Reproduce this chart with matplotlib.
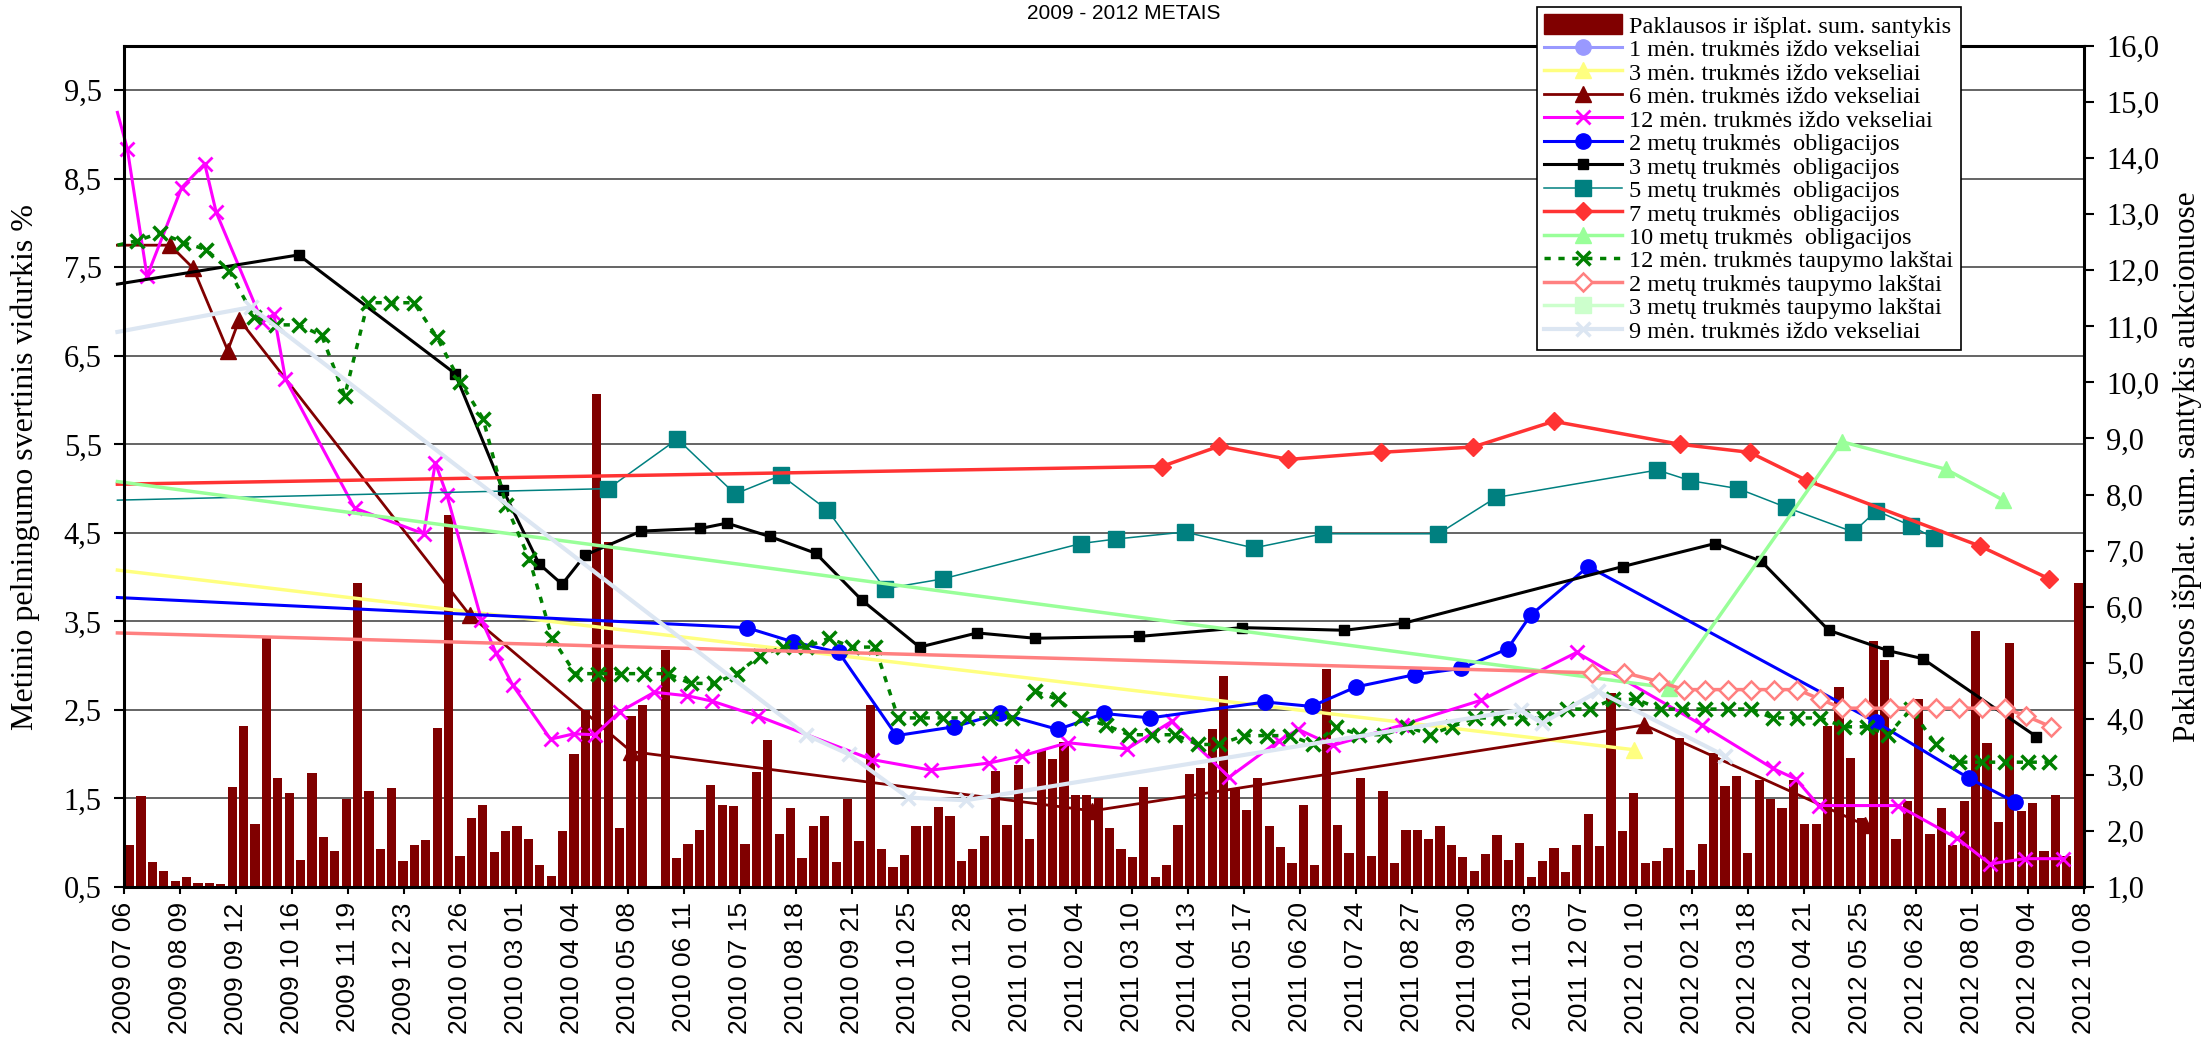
import numpy as np
import pandas as pd
import matplotlib
matplotlib.use("Agg")
import matplotlib.pyplot as plt
from matplotlib.patches import Patch

# x axis runs in days counted from the first tick date
base_date = pd.Timestamp("2009-07-06")

tick_labels = ["2009 07 06", "2009 08 09", "2009 09 12", "2009 10 16", "2009 11 19", "2009 12 23",
               "2010 01 26", "2010 03 01", "2010 04 04", "2010 05 08", "2010 06 11", "2010 07 15",
               "2010 08 18", "2010 09 21", "2010 10 25", "2010 11 28", "2011 01 01", "2011 02 04",
               "2011 03 10", "2011 04 13", "2011 05 17", "2011 06 20", "2011 07 24", "2011 08 27",
               "2011 09 30", "2011 11 03", "2011 12 07", "2012 01 10", "2012 02 13", "2012 03 18",
               "2012 04 21", "2012 05 25", "2012 06 28", "2012 08 01", "2012 09 04", "2012 10 08"]

# Paklausos ir isplatintos sumos santykis (right axis), one bar per auction
demand_ratio = [1.75, 2.62, 1.44, 1.29, 1.10, 1.17, 1.07, 1.07, 1.05, 2.79, 3.88, 2.13, 5.48, 2.94, 2.67,
                1.48, 3.03, 1.89, 1.65, 2.57, 6.42, 2.71, 1.67, 2.76, 1.46, 1.75, 1.84, 3.83, 7.64, 1.56,
                2.23, 2.46, 1.63,
                1.99, 2.08, 1.86, 1.40, 1.20, 2.00, 3.37, 4.15, 9.79, 7.15, 2.05, 4.05, 4.25, 0.00, 5.23,
                1.52, 1.76, 2.01, 2.82, 2.47, 2.44, 1.76, 3.05, 3.62, 1.95, 2.41, 1.52, 2.09, 2.27, 1.45,
                2.57, 1.82, 4.24, 1.68, 1.36, 1.57,
                2.09, 2.09, 2.42, 2.27, 1.47, 1.68, 1.91, 3.07, 2.11, 3.18, 1.85, 3.45, 3.28, 3.58, 2.64,
                2.64, 2.59, 2.06, 1.68, 1.53, 2.79, 1.18, 1.40, 2.10, 3.01, 3.13, 3.81, 4.77, 2.76, 2.37,
                2.95, 2.09, 1.72, 1.42,
                2.47, 1.39, 4.88, 2.11, 1.61, 2.94, 1.55, 2.72, 1.43, 2.02, 2.02, 1.85, 2.09, 1.75, 1.53,
                1.28, 1.58, 1.92, 1.49, 1.79, 1.17, 1.47, 1.69, 1.26, 1.75, 2.31, 1.73, 4.46, 1.99, 2.67,
                1.42, 1.47, 1.69, 3.66,
                1.31, 1.77, 3.39, 2.81, 2.98, 1.60, 2.91, 2.57, 2.41, 2.91, 2.13, 2.13, 3.88, 4.56, 3.30,
                2.23, 5.38, 5.04, 1.86, 2.54, 4.36, 1.94, 2.41, 1.75, 2.54, 5.57, 3.56, 2.16, 5.36, 2.35,
                2.49, 1.65, 2.64, 1.55, 6.42]
first_auction_day = 3.4
last_auction_day = 1186.5

# yields (left axis): day offsets and values
m1_days, m1_vals = [], []

m3_days = [-4, 917]
m3_vals = [4.08, 2.05]

m6_days = [-4, 28, 42, 63, 70, 210, 308, 588, 923, 1057]
m6_vals = [7.75, 7.75, 7.49, 6.56, 6.91, 3.57, 2.03, 1.36, 2.33, 1.20]

m12_days = [-4, 2, 14, 35, 49, 56, 84, 91, 98, 140, 182, 189, 196, 217, 226, 236, 259, 273, 286, 301,
            322, 342, 357, 385, 454, 490, 525, 545, 573, 609, 636, 671, 701, 713, 734, 776, 824, 882,
            958, 1001, 1015, 1029, 1077, 1113, 1133, 1154, 1177]
m12_vals = [9.25, 8.84, 7.40, 8.40, 8.67, 8.12, 6.88, 6.97, 6.24, 4.78, 4.49, 5.29, 4.93, 3.52, 3.14,
            2.78, 2.17, 2.23, 2.22, 2.48, 2.70, 2.66, 2.60, 2.43, 1.94, 1.82, 1.90, 1.98, 2.13, 2.06,
            2.37, 1.74, 2.15, 2.28, 2.10, 2.33, 2.61, 3.15, 2.33, 1.84, 1.72, 1.42, 1.42, 1.05, 0.76,
            0.82, 0.82]

y2_days = [-4, 378, 406, 434, 469, 504, 532, 567, 595, 623, 693, 721, 748, 784, 812, 840, 854, 889,
           1064, 1120, 1148]
y2_vals = [3.77, 3.43, 3.27, 3.15, 2.21, 2.31, 2.46, 2.28, 2.46, 2.41, 2.59, 2.54, 2.76, 2.90, 2.97,
           3.19, 3.57, 4.12, 2.36, 1.73, 1.46]

y3_days = [-4, 106, 201, 230, 252, 266, 280, 314, 350, 366, 392, 420, 448, 483, 518, 553, 616, 679,
           741, 777, 910, 966, 994, 1035, 1071, 1092, 1161]
y3_vals = [7.31, 7.64, 6.30, 4.99, 4.15, 3.92, 4.25, 4.52, 4.55, 4.61, 4.46, 4.27, 3.74, 3.21, 3.37,
           3.31, 3.33, 3.43, 3.40, 3.48, 4.12, 4.38, 4.18, 3.40, 3.17, 3.08, 2.20]

y5_days = [-4, 294, 336, 371, 399, 427, 462, 497, 581, 602, 644, 686, 728, 798, 833, 931, 951, 980,
           1009, 1050, 1064, 1085, 1099]
y5_vals = [4.87, 5.00, 5.56, 4.94, 5.15, 4.76, 3.87, 3.98, 4.38, 4.43, 4.51, 4.33, 4.49, 4.49, 4.90,
           5.21, 5.09, 5.00, 4.79, 4.51, 4.75, 4.58, 4.44]

y7_days = [-4, 630, 665, 707, 763, 819, 868, 945, 987, 1022, 1127, 1169]
y7_vals = [5.05, 5.25, 5.48, 5.33, 5.41, 5.47, 5.76, 5.50, 5.41, 5.09, 4.35, 3.98]

y10_days = [-4, 938, 1043, 1106, 1141]
y10_vals = [5.08, 2.75, 5.53, 5.22, 4.87]

s12_days = [-4, 8, 22, 36, 50, 64, 79, 92, 106, 120, 134, 148, 162, 176, 190, 204, 218, 232, 246, 260,
            274, 288, 302, 316, 330, 344, 358, 372, 386, 400, 414, 428, 442, 456, 470, 483, 497, 512,
            526, 539, 553, 567, 581, 596, 610, 624, 638, 652, 665, 680, 694, 708, 722, 736, 750, 765,
            779, 793, 806, 820, 834, 849, 862, 876, 890, 904, 918, 933, 946, 960, 974, 988, 1001, 1016,
            1030, 1044, 1058, 1071, 1085, 1100, 1114, 1128, 1142, 1156, 1169]
s12_vals = [7.75, 7.80, 7.89, 7.78, 7.70, 7.46, 6.94, 6.85, 6.85, 6.73, 6.05, 7.10, 7.10, 7.10, 6.71,
            6.21, 5.79, 4.81, 4.21, 3.31, 2.91, 2.91, 2.91, 2.91, 2.91, 2.80, 2.80, 2.91, 3.11, 3.21,
            3.21, 3.31, 3.21, 3.21, 2.41, 2.41, 2.41, 2.41, 2.41, 2.41, 2.71, 2.62, 2.41, 2.33, 2.22,
            2.22, 2.22, 2.11, 2.11, 2.21, 2.21, 2.21, 2.11, 2.31, 2.22, 2.22, 2.31, 2.22, 2.31, 2.41,
            2.41, 2.41, 2.41, 2.51, 2.51, 2.62, 2.62, 2.51, 2.51, 2.51, 2.51, 2.51, 2.41, 2.41, 2.41,
            2.31, 2.31, 2.22, 2.51, 2.11, 1.91, 1.91, 1.91, 1.91, 1.91]

s2_days = [-4, 891, 911, 932, 947, 960, 974, 988, 1002, 1016, 1030, 1043, 1057, 1072, 1086, 1100,
           1114, 1128, 1142, 1155, 1170]
s2_vals = [3.37, 2.92, 2.92, 2.82, 2.73, 2.73, 2.73, 2.73, 2.73, 2.73, 2.62, 2.52, 2.52, 2.52, 2.52,
           2.52, 2.52, 2.52, 2.52, 2.43, 2.31]

s3_days, s3_vals = [], []

m9_days = [-4, 77, 414, 440, 476, 511, 848, 861, 895, 972]
m9_vals = [6.77, 7.05, 2.22, 2.00, 1.51, 1.48, 2.50, 2.35, 2.71, 1.98]

left_ticks = [0.5, 1.5, 2.5, 3.5, 4.5, 5.5, 6.5, 7.5, 8.5, 9.5]
right_ticks = list(range(1, 17))

serif = "Liberation Serif"
sans = "Liberation Sans"

fig = plt.figure(figsize=(22.11, 10.40), dpi=100)
rect = [124 / 2211, 153 / 1040, 1960 / 2211, 841 / 1040]

# grid sits in its own axes so it stays behind the bars
axg = fig.add_axes(rect)
axg.set_ylim(0.5, 10)
axg.set_xlim(0, 1190)
axg.set_yticks(left_ticks)
axg.grid(axis="y", color="#4a4a4a", linewidth=1.2)
axg.tick_params(left=False, bottom=False, labelleft=False, labelbottom=False)
for s in axg.spines.values():
    s.set_visible(False)
axg.set_zorder(0)

ax = fig.add_axes(rect)
ax2 = ax.twinx()
ax.set_zorder(2)
ax2.set_zorder(1)
ax.patch.set_visible(False)
ax2.patch.set_visible(False)

bar_days = np.linspace(first_auction_day, last_auction_day, len(demand_ratio))
ax2.bar(bar_days, demand_ratio, width=5.6, color="#800000", linewidth=0)
ax2.set_ylim(1, 16)

series = [
    (m1_days, m1_vals, "1 mėn. trukmės iždo vekseliai",
     dict(color="#9999FF", marker="o", ms=11, lw=2.2)),
    (m3_days, m3_vals, "3 mėn. trukmės iždo vekseliai",
     dict(color="#FFFF80", marker="^", ms=12, lw=2.5)),
    (m6_days, m6_vals, "6 mėn. trukmės iždo vekseliai",
     dict(color="#800000", marker="^", ms=12, lw=2.0)),
    (m12_days, m12_vals, "12 mėn. trukmės iždo vekseliai",
     dict(color="#FF00FF", marker="x", ms=10, mew=2.0, lw=2.2)),
    (y2_days, y2_vals, "2 metų trukmės  obligacijos",
     dict(color="#0000FF", marker="o", ms=11, lw=2.2)),
    (y3_days, y3_vals, "3 metų trukmės  obligacijos",
     dict(color="black", marker="s", ms=7, lw=2.2)),
    (y5_days, y5_vals, "5 metų trukmės  obligacijos",
     dict(color="#008080", marker="s", ms=12, lw=1.1)),
    (y7_days, y7_vals, "7 metų trukmės  obligacijos",
     dict(color="#FF3333", marker="D", ms=9, lw=2.5)),
    (y10_days, y10_vals, "10 metų trukmės  obligacijos",
     dict(color="#99FF99", marker="^", ms=12, lw=2.5)),
    (s12_days, s12_vals, "12 mėn. trukmės taupymo lakštai",
     dict(color="#008000", marker="x", ms=10, mew=2.5, lw=2.5, linestyle=(0, (1.8, 2.2)))),
    (s2_days, s2_vals, "2 metų trukmės taupymo lakštai",
     dict(color="#FF8080", marker="D", ms=9, mfc="white", mew=1.8, lw=2.5)),
    (s3_days, s3_vals, "3 metų trukmės taupymo lakštai",
     dict(color="#CCFFCC", marker="s", ms=12, lw=2.5)),
    (m9_days, m9_vals, "9 mėn. trukmės iždo vekseliai",
     dict(color="#DCE6F2", marker="x", ms=10, mew=2.5, lw=3.0)),
]

handles = [Patch(facecolor="#800000", edgecolor="#800000")]
labels = ["Paklausos ir išplat. sum. santykis"]
for days, vals, name, style in series:
    # points before the first tick only carry the line in from the left, without a marker
    shown = [i for i, d in enumerate(days) if d >= 0]
    line, = ax.plot(days, vals, clip_on=False, markevery=shown if days else None, **style)
    handles.append(line)
    labels.append(name)

ax.set_xlim(0, 1190)
ax.set_ylim(0.5, 10)

tick_days = (pd.to_datetime(tick_labels, format="%Y %m %d") - base_date).days
ax.set_xticks(tick_days)
ax.set_xticklabels(tick_labels, rotation=90, fontsize=19, family=sans)
ax.tick_params(axis="x", direction="out", length=5, width=1.5, pad=6)

ax.set_yticks(left_ticks)
ax.set_yticklabels([f"{v:.1f}".replace(".", ",") for v in left_ticks], fontsize=22, family=serif)
ax.tick_params(axis="y", direction="out", length=7, width=1.5, pad=9)

ax2.set_yticks(right_ticks)
ax2.set_yticklabels([f"{v:.1f}".replace(".", ",") for v in right_ticks], fontsize=22, family=serif)
ax2.tick_params(axis="y", direction="out", length=7, width=1.5, pad=9)

for s in ax.spines.values():
    s.set_linewidth(2.2)
for s in ax2.spines.values():
    s.set_visible(False)

ax.set_ylabel("Metinio pelningumo svertinis vidurkis %", fontsize=23, family=serif, va="center")
ax.yaxis.set_label_coords(-0.0505, 0.5)
ax2.set_ylabel("Paklausos išplat. sum. santykis aukcionuose", fontsize=22.5, family=serif,
               rotation=90, va="center")
ax2.yaxis.set_label_coords(1.0526, 0.5)

fig.text(1124 / 2211, 1 - 19 / 1040, "2009 - 2012 METAIS", ha="center", va="baseline",
         fontsize=15, family=sans)

leg = fig.legend(handles, labels, loc="upper left", bbox_to_anchor=(1537 / 2211, 1 - 7 / 1040),
                 prop={"family": serif, "size": 17.5}, frameon=True, fancybox=False,
                 edgecolor="black", framealpha=1, borderpad=0.3, labelspacing=0.0,
                 handlelength=3.2, handleheight=0.9, handletextpad=0.3, borderaxespad=0)
leg.get_frame().set_linewidth(1.2)

fig.savefig("out.png", dpi=100)
